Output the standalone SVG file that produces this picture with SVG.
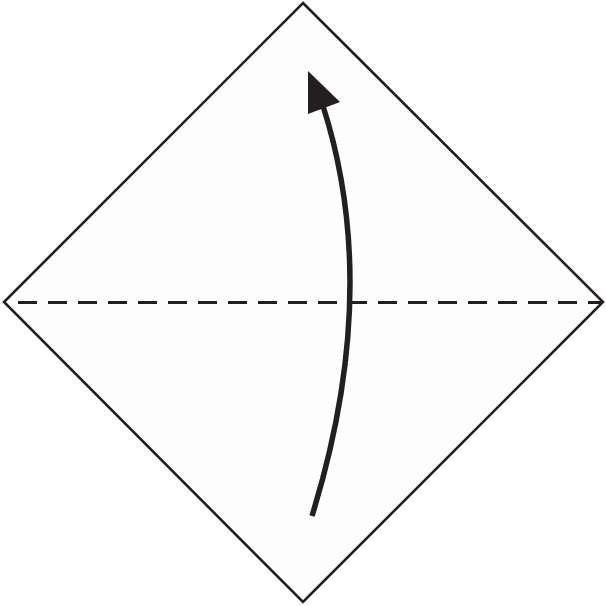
<svg xmlns="http://www.w3.org/2000/svg" width="606" height="606" viewBox="0 0 606 606">
<style>
.paper{fill:#fdfdfd;stroke:#231f20;stroke-width:2.6;stroke-linejoin:miter}
.fold{fill:none;stroke:#231f20;stroke-width:3;stroke-dasharray:19 11}
.arrow{fill:none;stroke:#231f20;stroke-width:5.5}
.head{fill:#231f20}
</style>
<rect width="606" height="606" fill="#ffffff"/>
<g id="paper">
<polygon class="paper" points="303,3 603,302 303,602 4,302"/>
</g>
<g id="connectors">
<line class="fold" x1="18" y1="302.5" x2="602" y2="302.5"/>
<path class="arrow" d="M312,516 Q382,290 323,106"/>
<polygon class="head" points="308,71 340,102 308,114"/>
</g>
</svg>
